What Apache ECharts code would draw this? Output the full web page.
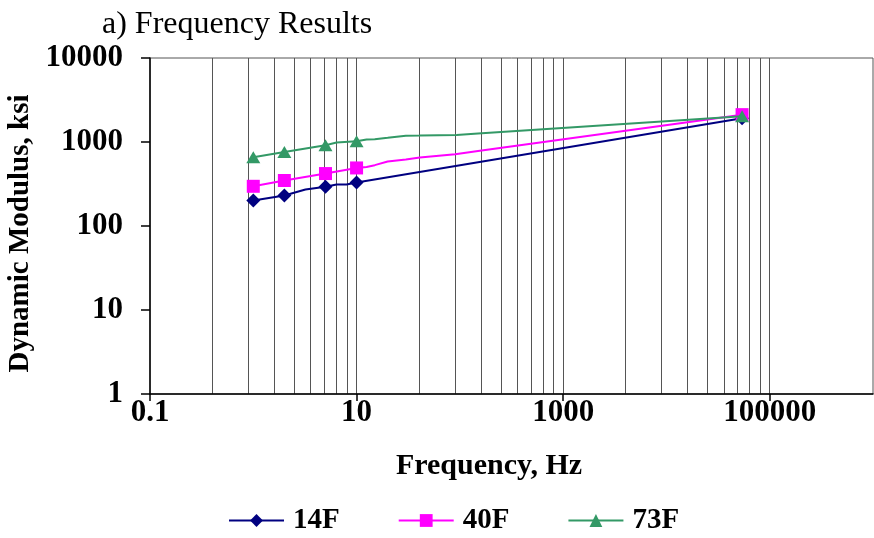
<!DOCTYPE html>
<html>
<head>
<meta charset="utf-8">
<title>Frequency Results</title>
<script src="https://cdn.jsdelivr.net/npm/echarts@6/dist/echarts.min.js"></script>
<style>
  html, body { margin: 0; padding: 0; background: #ffffff; }
  #chart { width: 874px; height: 538px; }
</style>
</head>
<body>
<div id="chart"></div>
<script>
// Dynamic modulus (ksi) versus loading frequency (Hz) at three test temperatures.
const freq14 = [1, 2, 3.2, 5, 6.4, 8, 10, 54000];
const mod14  = [201, 231, 272, 294, 311, 312, 329, 1914];
const mark14 = [1, 1, 0, 1, 0, 0, 1, 1];

const freq40 = [1, 2, 5, 10, 12.5, 15, 20, 30, 41, 90, 150, 54000];
const mod40  = [297, 348, 421, 491, 505, 530, 585, 618, 653, 714, 780, 2117];
const mark40 = [1, 1, 1, 1, 0, 0, 0, 0, 0, 0, 0, 1];

const freq73 = [1, 2, 5, 6.4, 10, 12.5, 15, 20, 30, 41, 93, 150, 54000];
const mod73  = [658, 760, 914, 984, 1019, 1069, 1080, 1120, 1185, 1192, 1211, 1265, 2030];
const mark73 = [1, 1, 1, 0, 1, 0, 0, 0, 0, 0, 0, 0, 1];

const seriesNames = ['14F', '40F', '73F'];

// Labelled frequency ticks and the vertical grid positions.
const freqLabels = [0.1, 10, 1000, 100000];
const freqGrid = [
  0.4, 0.9, 1.6, 2.5, 3.6, 4.9, 6.4, 8.1, 10,
  40, 90, 160, 250, 360, 490, 640, 810, 1000,
  4000, 9000, 16000, 25000, 36000, 49000, 64000, 81000, 100000
];

const serif = '"Liberation Serif", "Times New Roman", serif';

function points(freqs, vals, marks) {
  return freqs.map(function (f, i) {
    const item = { value: [f, vals[i]] };
    if (!marks[i]) item.symbol = 'none';
    return item;
  });
}

function fmtNum(v) {
  return String(Number(Number(v).toPrecision(6)));
}

const chart = echarts.init(document.getElementById('chart'), null, { renderer: 'canvas' });

chart.setOption({
  animation: false,
  backgroundColor: '#ffffff',
  title: {
    text: 'a) Frequency Results',
    left: 97,
    top: 4,
    textStyle: { fontFamily: serif, fontSize: 32, fontWeight: 'normal', color: '#000' }
  },
  legend: {
    left: 223,
    top: 501,
    itemWidth: 55,
    itemHeight: 16,
    itemGap: 58,
    data: seriesNames,
    textStyle: {
      fontFamily: serif, fontSize: 29, fontWeight: 'bold', color: '#000',
      padding: [0, 0, 0, 4]
    }
  },
  grid: {
    left: 150,
    right: 1,
    top: 58,
    bottom: 144,
    show: true,
    borderColor: '#555',
    borderWidth: 1,
    containLabel: false,
    outerBoundsMode: 'none'
  },
  xAxis: [
    {
      type: 'log',
      logBase: 10,
      min: 0.1,
      max: 1000000,
      name: 'Frequency, Hz',
      nameLocation: 'middle',
      nameGap: 57,
      nameTextStyle: {
        fontFamily: serif, fontSize: 30, fontWeight: 'bold', color: '#000',
        padding: [0, 45, 0, 0]
      },
      axisLine: { show: true, lineStyle: { color: '#000', width: 1.5 } },
      axisTick: { show: true, length: 7, customValues: freqLabels, lineStyle: { color: '#000', width: 1.5 } },
      axisLabel: {
        customValues: freqLabels,
        margin: 3,
        fontFamily: serif, fontSize: 31, fontWeight: 'bold', color: '#000',
        formatter: fmtNum
      },
      splitLine: { show: false }
    },
    {
      type: 'log',
      logBase: 10,
      min: 0.1,
      max: 1000000,
      position: 'bottom',
      axisLine: { show: false },
      axisTick: { show: false, customValues: freqGrid },
      axisLabel: { show: false },
      splitLine: { show: true, lineStyle: { color: '#555', width: 1 } }
    }
  ],
  yAxis: {
    type: 'log',
    logBase: 10,
    min: 1,
    max: 10000,
    name: 'Dynamic Modulus, ksi',
    nameLocation: 'middle',
    nameGap: 106,
    nameTextStyle: {
      fontFamily: serif, fontSize: 29, fontWeight: 'bold', color: '#000',
      padding: [0, 15, 0, 0]
    },
    axisLine: { show: true, lineStyle: { color: '#000', width: 1.5 } },
    axisTick: { show: true, length: 9, lineStyle: { color: '#000', width: 1.5 } },
    axisLabel: {
      margin: 27,
      fontFamily: serif, fontSize: 31, fontWeight: 'bold', color: '#000',
      formatter: fmtNum
    },
    splitLine: { show: false }
  },
  series: [
    {
      name: seriesNames[0],
      type: 'line',
      xAxisIndex: 0,
      data: points(freq14, mod14, mark14),
      symbol: 'diamond',
      symbolSize: 14,
      showAllSymbol: true,
      lineStyle: { color: '#000080', width: 2 },
      itemStyle: { color: '#000080' },
      z: 3
    },
    {
      name: seriesNames[1],
      type: 'line',
      xAxisIndex: 0,
      data: points(freq40, mod40, mark40),
      symbol: 'rect',
      symbolSize: 13,
      showAllSymbol: true,
      lineStyle: { color: '#FF00FF', width: 2 },
      itemStyle: { color: '#FF00FF' },
      z: 4
    },
    {
      name: seriesNames[2],
      type: 'line',
      xAxisIndex: 0,
      data: points(freq73, mod73, mark73),
      symbol: 'triangle',
      symbolSize: [14, 12],
      showAllSymbol: true,
      lineStyle: { color: '#339966', width: 2 },
      itemStyle: { color: '#339966' },
      z: 5
    }
  ]
});
</script>
</body>
</html>
